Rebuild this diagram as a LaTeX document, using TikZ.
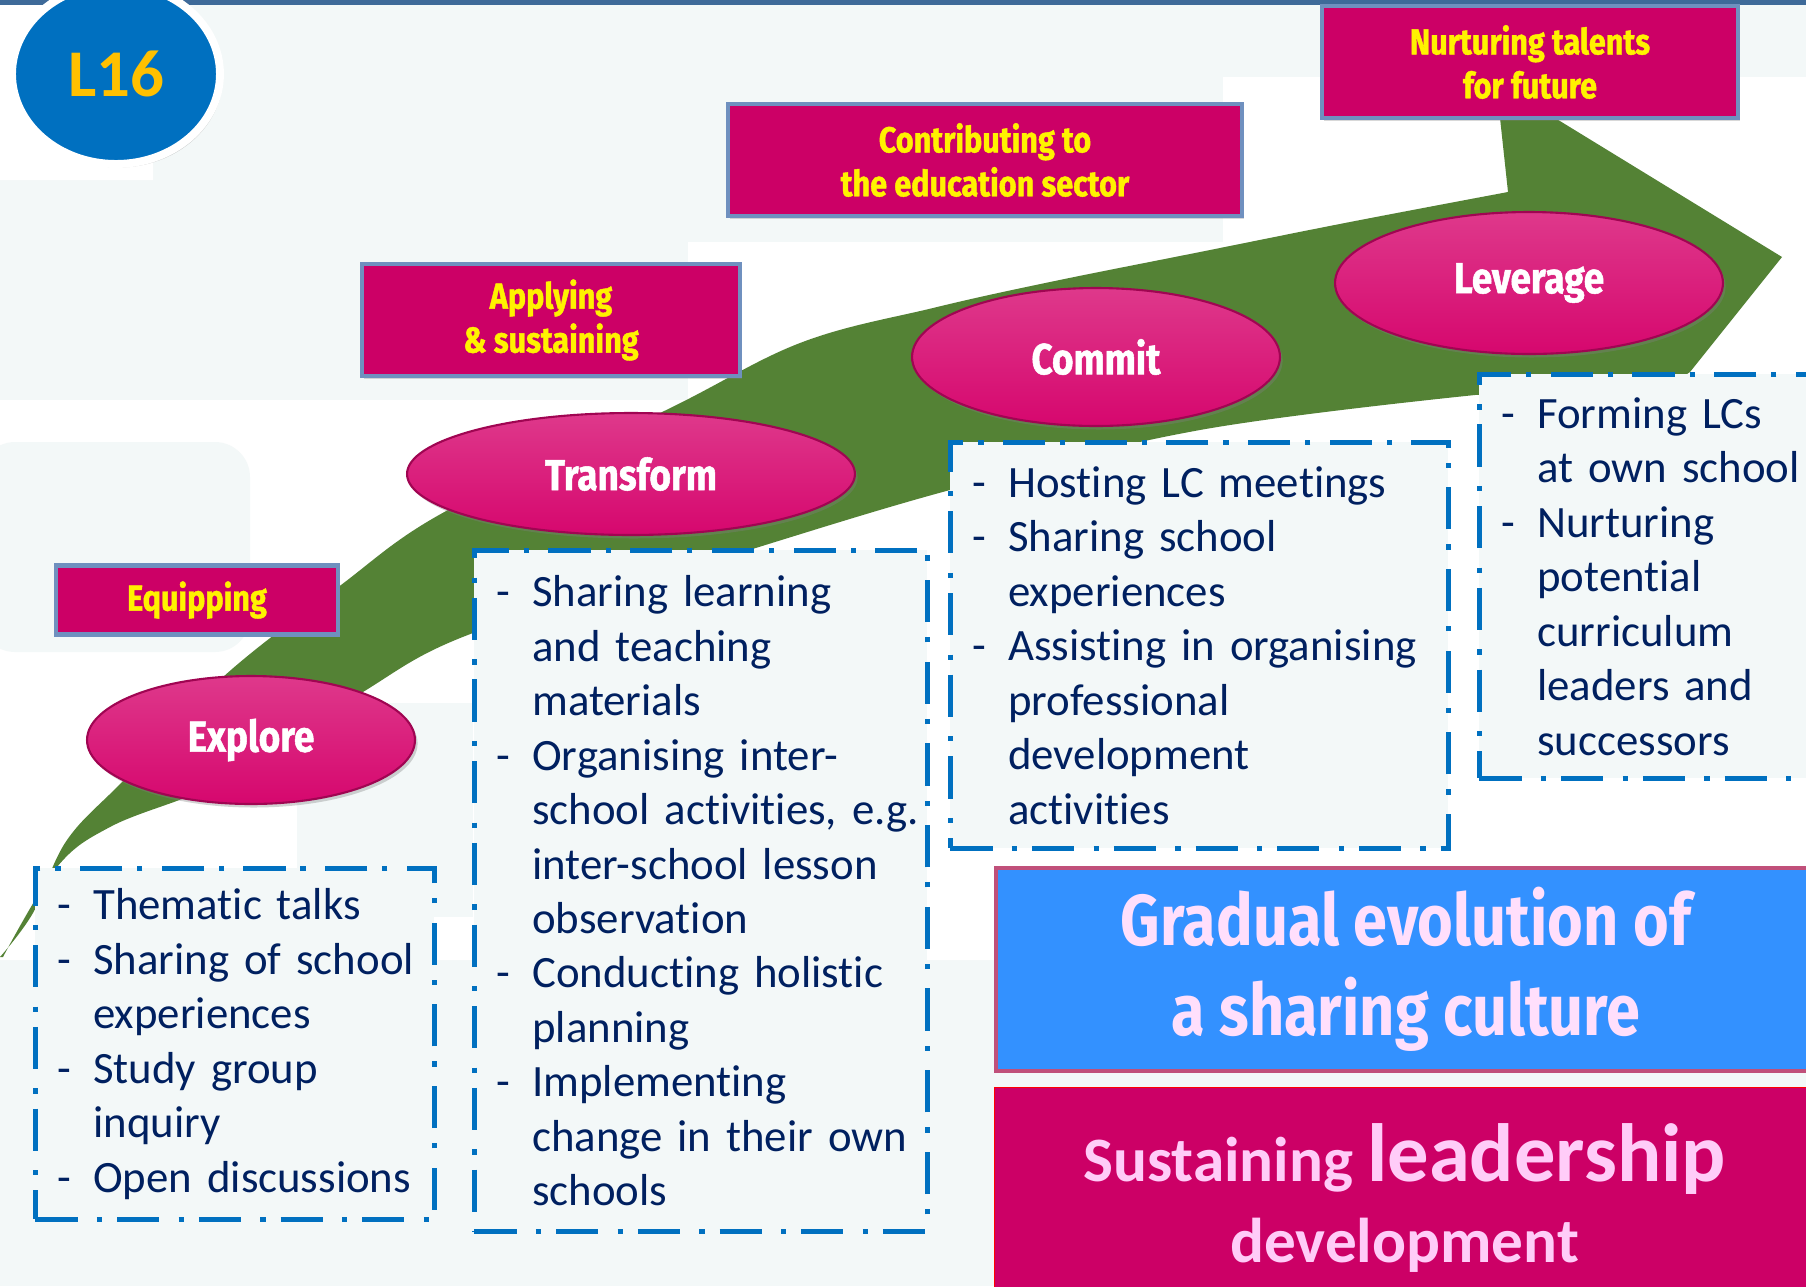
\documentclass[tikz,border=0pt]{standalone}
\usepackage{fontspec}
\setmainfont{Carlito}[Ligatures=NoCommon]
\newfontfamily\headfont[FakeStretch=0.85,FakeBold=1.2]{Fira Sans}
\newfontfamily\titlefont[FakeStretch=0.85]{Fira Sans}
\usetikzlibrary{shapes.geometric,shadows}

\definecolor{bgcol}{HTML}{F3F8F8}
\definecolor{topbar}{HTML}{3E6A99}
\definecolor{leafgreen}{HTML}{548235}
\definecolor{stagepink}{HTML}{D6076E}
\definecolor{tagpink}{HTML}{CC0066}
\definecolor{tagrim}{HTML}{6F90BF}
\definecolor{listblue}{HTML}{0070C0}
\definecolor{navy}{HTML}{002060}
\definecolor{skyblue}{HTML}{3391FF}
\definecolor{skyrim}{HTML}{C0507A}
\definecolor{palepink}{HTML}{FFDFFC}
\definecolor{softpink}{HTML}{FFCCF8}
\definecolor{badgegold}{HTML}{FFC000}

\newcommand\litem[1]{\makebox[20.4pt][l]{-}\mbox{#1}}
\newcommand\lcont[1]{\hspace*{20.4pt}\mbox{#1}}

\tikzset{
	stage/.style={ellipse, inner sep=0pt, top color=stagepink!80!white, bottom color=stagepink,
		draw=stagepink!75!black, line width=1.2pt,
		drop shadow={opacity=0.35, shadow xshift=1.5pt, shadow yshift=-2pt},
		text=white, font={\headfont\bfseries\fontsize{24.7}{30}\selectfont}},
	tag/.style={rectangle, inner sep=0pt, fill=tagpink, draw=tagrim, line width=2.3pt,
		drop shadow={opacity=0.3, shadow xshift=1pt, shadow yshift=-1.5pt},
		text=yellow, align=center, font={\headfont\bfseries\fontsize{20.5}{25}\selectfont}},
	listbox/.style={rectangle, anchor=north west, draw=listblue, line width=2.8pt,
		dash pattern=on 24pt off 11pt on 3pt off 8.5pt, fill=bgcol,
		inner xsep=0.44cm, inner ysep=0pt, align=left, text=navy,
		font={\fontsize{25.5}{31}\selectfont}},
	badge/.style={ellipse, inner sep=0pt, fill=listblue, draw=white, line width=4.5pt,
		minimum width=4.16cm, minimum height=3.6cm,
		drop shadow={opacity=0.35, shadow xshift=1.5pt, shadow yshift=-2pt},
		text=badgegold, font={\bfseries\fontsize{38}{40}\selectfont}}
}

\begin{document}
\begin{tikzpicture}[x=0.02cm, y=-0.02cm]
	\useasboundingbox (0,0) rectangle (1806,1286);
	\fill[bgcol] (0,0) rectangle (1806,1286);
	\fill[white] (0,0) rectangle (153,180) (0,400) rectangle (1806,960)
		(688,242) rectangle (1806,400) (1223,77) rectangle (1806,242);
	\fill[bgcol, rounded corners=20] (-20,442) rectangle (250,652);
	\fill[bgcol] (297,703) rectangle (473,917);
	\fill[topbar] (0,0) rectangle (1806,5);

	\fill[leafgreen] plot[smooth, tension=0.6] coordinates {(0,957) (33,913) (67,840) (127,777) (223,677) (337,588) (448,510) (660,413) (800,343) (933,308) (1050,282) (1200,252) (1350,222) (1508,192)}
		-- (1500,118) -- (1555,118) -- (1782,257) -- (1690,372) -- (1560,460) -- (1520,392)
		-- plot[smooth, tension=0.6] coordinates {(1475,395) (1200,430) (950,490) (700,565) (473,633) (363,692) (250,770) (187,797) (110,827) (57,867) (3,957)} -- cycle;

	\node[stage, minimum width=6.56cm, minimum height=2.56cm] (explore) at (251,740) {Explore};
	\node[stage, minimum width=8.96cm, minimum height=2.44cm] (transform) at (631,474) {Transform};
	\node[stage, minimum width=7.36cm, minimum height=2.76cm] (commit) at (1096,357) {Commit};
	\node[stage, minimum width=7.76cm, minimum height=2.84cm] (leverage) at (1529,283) {Leverage};

	\node[tag, minimum width=5.64cm, minimum height=1.38cm] (equip) at (197,600) {Equipping};
	\node[tag, minimum width=7.56cm, minimum height=2.24cm] (apply) at (551,320) {Applying\\\& sustaining};
	\node[tag, minimum width=10.28cm, minimum height=2.24cm] (contrib) at (985,160) {Contributing to\\the education sector};
	\node[tag, minimum width=8.32cm, minimum height=2.24cm] (nurture) at (1530,62) {Nurturing talents\\for future};

	\node[listbox, text width=7.1cm, minimum height=7.02cm] (explorelist) at (33,866)
		{\litem{Thematic talks}\\\litem{Sharing of school}\\\lcont{experiences}\\\litem{Study group}\\\lcont{inquiry}\\\litem{Open discussions}};
	\node[listbox, text width=8.18cm, minimum height=13.62cm] (transformlist) at (472,548)
		{\litem{Sharing learning}\\\lcont{and teaching}\\\lcont{materials}\\\litem{Organising inter-}\\\lcont{school activities, e.g.}\\\lcont{inter-school lesson}\\\lcont{observation}\\\litem{Conducting holistic}\\\lcont{planning}\\\litem{Implementing}\\\lcont{change in their own}\\\lcont{schools}};
	\node[listbox, text width=9.08cm, minimum height=8.12cm] (commitlist) at (948,440)
		{\litem{Hosting LC meetings}\\\litem{Sharing school}\\\lcont{experiences}\\\litem{Assisting in organising}\\\lcont{professional}\\\lcont{development}\\\lcont{activities}};
	\node[listbox, text width=6.02cm, minimum height=8.08cm] (leveragelist) at (1477,372)
		{\litem{Forming LCs}\\\lcont{at own school}\\\litem{Nurturing}\\\lcont{potential}\\\lcont{curriculum}\\\lcont{leaders and}\\\lcont{successors}};

	\node[rectangle, anchor=north west, fill=skyblue, draw=skyrim, line width=2.3pt,
		minimum width=16.4cm, minimum height=4.06cm, align=center, text=palepink,
		font={\titlefont\bfseries\fontsize{41}{51}\selectfont}] (evolution) at (994,866)
		{Gradual evolution of\\a sharing culture};
	\node[rectangle, anchor=north west, fill=tagpink, draw=red, line width=0.8pt,
		minimum width=16.4cm, minimum height=4.4cm, align=center, text=softpink,
		font={\bfseries\fontsize{36}{46}\selectfont}] (leadership) at (994,1087)
		{Sustaining {\fontsize{47}{46}\selectfont leadership}\\development};

	\node[badge] (badge) at (116,74) {L16};
\end{tikzpicture}
\end{document}
